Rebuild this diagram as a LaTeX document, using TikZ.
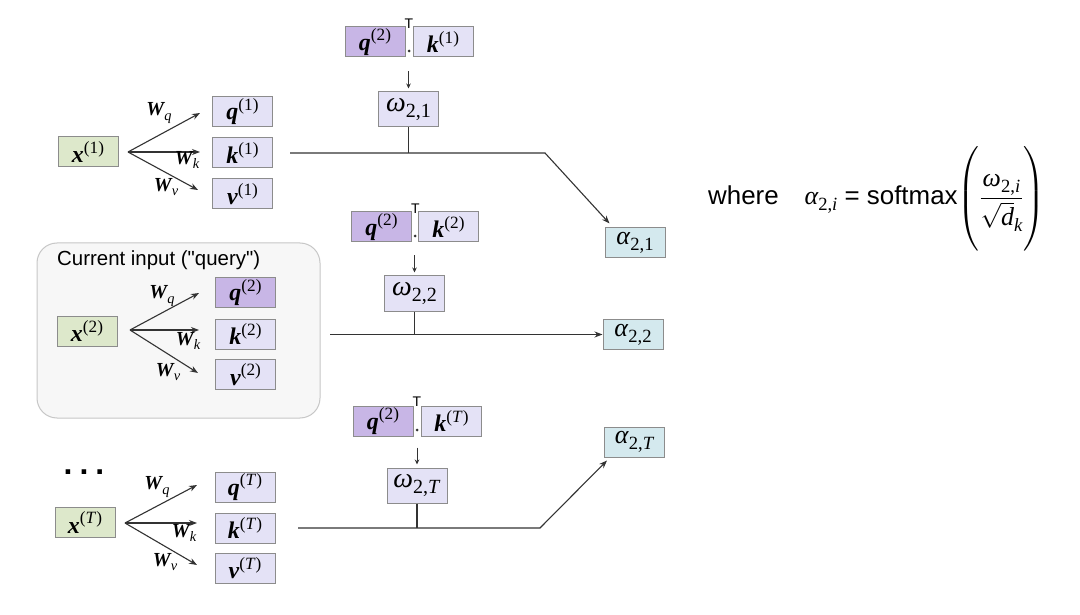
\documentclass[tikz,border=0pt]{standalone}
\usepackage{amsmath}
\usepackage{fontspec}
\setmainfont{Liberation Serif}
\setsansfont{Liberation Sans}
\usetikzlibrary{arrows.meta,calc}
\definecolor{xg}{HTML}{DDE8CB}
\definecolor{lav}{HTML}{E4E2F6}
\definecolor{pur}{HTML}{C8B6E6}
\definecolor{cy}{HTML}{D4E9EE}
\definecolor{bd}{HTML}{8C8C8C}
\definecolor{ln}{HTML}{333333}
\newcommand\sups[1]{\raisebox{0.40em}{\scalebox{0.72}{#1}}}
\newcommand\subs[1]{\raisebox{-0.22em}{\scalebox{0.72}{#1}}}
\newcommand\bvec[1]{{\bfseries\itshape #1\/}}
\newcommand\strq{\XeTeXglyph\XeTeXcharglyph"22\relax}
\tikzset{
  box/.style={draw=bd, line width=1bp, inner sep=0pt, minimum width=60bp, minimum height=30bp, font=\rmfamily\fontsize{24}{26}\selectfont},
  xbox/.style={box, fill=xg},
  vbox/.style={box, fill=lav},
  qbox/.style={box, fill=pur},
  abox/.style={box, fill=cy, font=\rmfamily\fontsize{26}{28}\selectfont},
  wbox/.style={box, fill=lav, minimum height=35bp, font=\rmfamily\fontsize{28}{30}\selectfont},
  conn/.style={line width=1.1bp, draw=ln},
  arr/.style={conn, -{Stealth[length=8bp,width=6bp]}},
  sarr/.style={line width=1bp, draw=ln, -{Stealth[length=5bp,width=4.5bp]}},
  wlab/.style={font=\rmfamily\fontsize{20}{22}\selectfont, inner sep=0pt},
  tlab/.style={font=\sffamily\fontsize{14}{14}\selectfont, inner sep=0pt},
  panel/.style={draw=black!22, fill=black!3, line width=1bp, rounded corners=20bp},
}
\begin{document}
\begin{tikzpicture}[x=1bp,y=-1bp]
\useasboundingbox[fill=white] (0,0) rectangle (1080,615);

% ---------- Row 1 ----------
\node[xbox] (x1) at (88,152) {\bvec{x}\sups{(1)}};
\node[vbox] (q1) at (242.5,111.5) {\bvec{q}\sups{(1)}};
\node[vbox] (k1) at (242.5,153) {\bvec{k}\sups{(1)}};
\node[vbox] (v1) at (242.5,194) {\bvec{v}\sups{(1)}};
\coordinate (o1) at (128,152);
\coordinate (e1q) at (200,113);
\coordinate (e1k) at (200,152);
\coordinate (e1v) at (198,190);
\draw[arr] (o1) -- (e1q);
\draw[arr] (o1) -- (e1k);
\draw[arr] (o1) -- (e1v);
\node[wlab] (w1q) at (159,113) {\bvec{W}\kern-1bp\subs{\itshape q}};
\node[wlab] (w1k) at (187,160) {\bvec{W}\kern-1bp\subs{\itshape k}};
\node[wlab] (w1v) at (166,187) {\bvec{W}\kern-1bp\subs{\itshape v}};

\node[qbox] (qa) at (375,42) {\bvec{q}\sups{(2)}};
\node[vbox] (ka) at (443,42) {\bvec{k}\sups{(1)}};
\node[tlab] (ta) at (409,24) {T};
\fill[ln] (409,51) circle (1.5bp);
\node[wbox] (om1) at (408.5,109.5) {\textit{ω}\subs{2,1}};
\draw[sarr] ($(om1.north)+(0,-20)$) -- ($(om1.north)+(0,-3)$);
\node[abox] (a1) at (635,243) {\textit{α}\subs{2,1}};
\coordinate (h1s) at (290,153);
\coordinate (h1b) at (545,153);
\draw[conn] (om1.south) -- (om1.south |- h1s);
\draw[arr] (h1s) -- (h1b) -- ($(a1.north west)+(5,-4)$);

% ---------- Row 2 ----------
\draw[panel] (37,243) rectangle (320,418);
\node[anchor=west, font=\sffamily\fontsize{20.5}{22}\selectfont, inner sep=0pt] (cur) at (57,260) {Current input (\strq query\strq)};
\node[xbox] (x2) at (87,331) {\bvec{x}\sups{(2)}};
\node[qbox] (q2) at (245.5,292.5) {\bvec{q}\sups{(2)}};
\node[vbox] (k2) at (245.5,334) {\bvec{k}\sups{(2)}};
\node[vbox] (v2) at (245.5,374.5) {\bvec{v}\sups{(2)}};
\coordinate (o2) at (130,330);
\coordinate (e2q) at (199,293);
\coordinate (e2k) at (199,330);
\coordinate (e2v) at (198,373);
\draw[arr] (o2) -- (e2q);
\draw[arr] (o2) -- (e2k);
\draw[arr] (o2) -- (e2v);
\node[wlab] (w2q) at (162,296) {\bvec{W}\kern-1bp\subs{\itshape q}};
\node[wlab] (w2k) at (188,341) {\bvec{W}\kern-1bp\subs{\itshape k}};
\node[wlab] (w2v) at (168,372) {\bvec{W}\kern-1bp\subs{\itshape v}};

\node[qbox] (qb) at (381.5,227) {\bvec{q}\sups{(2)}};
\node[vbox] (kb) at (448.5,227) {\bvec{k}\sups{(2)}};
\node[tlab] (tb) at (415.5,209) {T};
\fill[ln] (415,236) circle (1.5bp);
\node[wbox] (om2) at (414.5,293.5) {\textit{ω}\subs{2,2}};
\draw[sarr] ($(om2.north)+(0,-20)$) -- ($(om2.north)+(0,-3)$);
\node[abox] (a2) at (633,334.5) {\textit{α}\subs{2,2}};
\coordinate (h2s) at (330,334.5);
\draw[conn] (om2.south) -- (om2.south |- h2s);
\draw[arr] (h2s) -- (a2.west);

% ---------- Row 3 ----------
\node[font=\sffamily\bfseries\fontsize{32}{32}\selectfont, inner sep=0pt] (dots) at (84,472) {.\hspace{7bp}.\hspace{7bp}.};
\node[xbox] (x3) at (85,522.5) {\bvec{x}\sups{(\textit{T})}};
\node[vbox] (q3) at (245,487) {\bvec{q}\sups{(\textit{T})}};
\node[vbox] (k3) at (245,528) {\bvec{k}\sups{(\textit{T})}};
\node[vbox] (v3) at (245,568) {\bvec{v}\sups{(\textit{T})}};
\coordinate (o3) at (125,523);
\coordinate (e3q) at (197,485);
\coordinate (e3k) at (197,523);
\coordinate (e3v) at (197,565);
\draw[arr] (o3) -- (e3q);
\draw[arr] (o3) -- (e3k);
\draw[arr] (o3) -- (e3v);
\node[wlab] (w3q) at (157,487) {\bvec{W}\kern-1bp\subs{\itshape q}};
\node[wlab] (w3k) at (184,533) {\bvec{W}\kern-1bp\subs{\itshape k}};
\node[wlab] (w3v) at (165,562) {\bvec{W}\kern-1bp\subs{\itshape v}};

\node[qbox] (qc) at (383,421) {\bvec{q}\sups{(2)}};
\node[vbox] (kc) at (451.5,421) {\bvec{k}\sups{(\textit{T})}};
\node[tlab] (tc) at (417,402) {T};
\fill[ln] (417,430) circle (1.5bp);
\node[wbox] (om3) at (417,485.5) {\textit{ω}\subs{2,\textit{T}}};
\draw[sarr] ($(om3.north)+(0,-20)$) -- ($(om3.north)+(0,-3)$);
\node[abox] (a3) at (634.5,442) {\textit{α}\subs{2,\textit{T}}};
\coordinate (h3s) at (298,528);
\coordinate (h3b) at (540,528);
\draw[conn] (om3.south) -- (om3.south |- h3s);
\draw[arr] (h3s) -- (h3b) -- ($(a3.south west)+(3,3)$);

% ---------- Formula ----------
\node[anchor=base west, inner sep=0pt, font=\sffamily\fontsize{26}{28}\selectfont] (eq) at (708,205)
  {where\quad{\rmfamily\itshape α}\subs{\rmfamily 2,\itshape i} = softmax$\left(\rule[-44bp]{0pt}{101bp}\dfrac{\text{\rmfamily\itshape ω\subs{\upshape 2,\itshape i}}}{\sqrt{\text{\rmfamily\itshape d}}\text{\rmfamily\itshape\subs{k}}}\right)$};
\end{tikzpicture}
\end{document}
